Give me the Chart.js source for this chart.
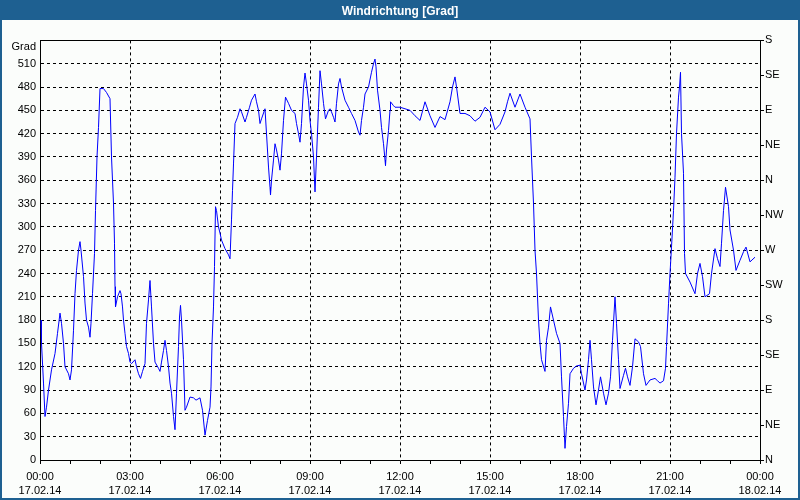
<!DOCTYPE html>
<html>
<head>
<meta charset="utf-8">
<script src="https://cdn.jsdelivr.net/npm/chart.js@4/dist/chart.umd.min.js"></script>
<style>
  html, body { margin: 0; padding: 0; background: #fbfdfb; }
  #wrap { width: 800px; height: 500px; }
</style>
</head>
<body>
<div id="wrap"><canvas id="c" width="800" height="500"></canvas></div>
<script>
// minutes after 17.02.14 00:00
const timeMinutes = [
  2,3,7,10,13,17,23,30,35,40,43,47,50,57,60,63,67,70,73,77,80,82,87,90,93,97,100,102,105,109,111,114,117,120,
  127,133,140,143,147,149,150,151,155,160,162,165,167,170,173,177,180,183,190,193,197,201,205,210,213,217,220,
  223,227,230,237,240,243,247,250,253,257,260,263,267,270,273,277,279,281,283,287,290,293,300,307,312,320,
  325,330,335,340,342,344,347,349,351,353,357,360,363,370,377,380,383,385,387,390,395,400,403,410,413,419,423,
  430,433,437,440,443,450,453,457,460,461,463,467,470,473,477,480,483,487,491,497,503,510,513,517,520,523,527,
  530,533,537,540,543,547,550,553,557,560,563,567,571,577,580,583,587,590,593,597,600,603,610,617,623,630,637,
  640,643,647,650,657,663,667,670,672,675,680,683,687,690,691,693,697,700,701,707,710,720,
  730,740,750,760,770,780,790,800,810,820,825,830,833,840,850,860,870,880,890,900,910,920,930,935,940,950,960,
  970,980,983,987,990,993,997,1000,1003,1010,1013,1017,1021,1027,1033,1040,1043,1047,1050,1053,1057,1060,1067,
  1073,1080,1083,1090,1093,1097,1100,1103,1107,1112,1117,1121,1127,1132,1137,1141,1145,1150,1153,1157,1160,1167,
  1171,1175,1180,1185,1190,1197,1201,1207,1212,1220,1230,1235,1240,1247,1251,1253,1257,1260,1263,1267,1270,1273,
  1277,1279,1281,1283,1287,1289,1291,1300,1310,1315,1320,1325,1330,1339,1343,1350,1355,1360,1363,1367,1371,1377,
  1380,1387,1392,1400,1407,1412,1420,1430
];
// wind direction in degrees
const windDirection = [
  180,150,99,56,68,90,116,137,163,189,176,150,120,111,103,116,167,214,244,270,281,270,236,202,180,171,158,176,214,266,321,390,428,478,
  478,473,465,390,330,279,223,197,210,218,214,197,180,163,146,137,126,124,129,120,111,105,114,124,176,206,231,
  197,150,126,118,114,126,141,154,141,120,99,86,56,39,86,146,184,199,180,129,64,68,81,80,77,80,
  64,32,51,68,94,150,197,249,326,321,300,292,283,272,264,259,309,347,381,433,441,452,448,435,441,454,463,
  471,461,450,433,439,452,420,377,351,341,360,386,407,399,386,373,394,437,467,459,450,446,433,420,409,433,480,
  498,484,463,437,420,390,345,390,454,501,484,459,439,450,452,448,441,435,459,484,491,480,463,454,446,437,422,
  418,437,454,471,480,499,510,516,506,476,450,428,407,386,379,399,424,450,461,456,454,454,
  452,450,443,437,461,443,428,442,438,461,480,493,480,446,446,443,436,441,454,448,425,432,448,461,472,454,471,
  454,439,390,330,270,240,180,150,129,114,154,171,197,180,163,150,107,56,15,43,73,111,118,
  121,122,111,90,103,129,154,129,94,71,90,107,86,71,86,107,154,210,176,129,92,109,
  118,107,96,120,156,152,146,111,96,103,105,102,99,102,118,146,201,240,274,321,364,420,
  467,480,499,420,369,266,240,229,214,240,253,236,210,214,240,272,259,249,279,321,351,326,
  296,270,244,257,268,274,255,261
];
const timeLabels = ['00:00','03:00','06:00','09:00','12:00','15:00','18:00','21:00','00:00'];
const dateLabels = ['17.02.14','17.02.14','17.02.14','17.02.14','17.02.14','17.02.14','17.02.14','17.02.14','18.02.14'];
const compassLabels = ['N','NE','E','SE','S','SW','W','NW','N','NE','E','SE','S'];
const chartTitle = 'Windrichtung [Grad]';
const leftUnit = 'Grad';

const FONT = 'Liberation Sans, Arial, sans-serif';
const BAR = '#1e6091';
const BG = '#fbfdfb';

const points = timeMinutes.map((t, i) => ({ x: t, y: windDirection[i] }));

const framePlugin = {
  id: 'frame',
  beforeDraw(chart) {
    const ctx = chart.ctx;
    ctx.save();
    ctx.fillStyle = BG;
    ctx.fillRect(0, 0, chart.width, chart.height);
    ctx.fillStyle = BAR;
    ctx.fillRect(0, 0, chart.width, 20);
    ctx.strokeStyle = BAR;
    ctx.lineWidth = 2;
    ctx.strokeRect(1, 1, chart.width - 2, chart.height - 2);
    ctx.restore();
  },
  afterDraw(chart) {
    const a = chart.chartArea;
    const ctx = chart.ctx;
    ctx.save();
    ctx.strokeStyle = '#000';
    ctx.lineWidth = 1;
    ctx.beginPath();
    ctx.moveTo(a.left, Math.round(a.top) + 0.5);
    ctx.lineTo(a.right, Math.round(a.top) + 0.5);
    ctx.stroke();
    ctx.restore();
  }
};

new Chart(document.getElementById('c'), {
  type: 'line',
  data: {
    datasets: [{
      data: points,
      borderColor: '#0000ff',
      borderWidth: 1,
      pointRadius: 0,
      tension: 0,
      fill: false,
      yAxisID: 'y'
    }]
  },
  plugins: [framePlugin],
  options: {
    responsive: false,
    devicePixelRatio: 1,
    animation: false,
    layout: { padding: 0 },
    plugins: {
      legend: { display: false },
      tooltip: { enabled: false },
      title: {
        display: true,
        text: chartTitle,
        color: '#ffffff',
        font: { family: FONT, size: 12, weight: 'bold' },
        padding: { top: 4, bottom: 22 }
      }
    },
    scales: {
      x: {
        type: 'linear',
        min: 0,
        max: 1440,
        afterFit(s) { s.height = 40; },
        afterBuildTicks(s) {
          const t = [];
          for (let v = 0; v <= 1440; v += 60) t.push({ value: v });
          s.ticks = t;
        },
        ticks: {
          autoSkip: false,
          maxRotation: 0,
          minRotation: 0,
          padding: 5,
          color: '#000',
          font: { family: FONT, size: 11, lineHeight: 1.36 },
          callback(v) {
            if (v % 180 !== 0) return '';
            const i = v / 180;
            return [timeLabels[i], dateLabels[i]];
          }
        },
        grid: {
          color: c => (c.tick && c.tick.value % 180 === 0) ? '#000' : 'rgba(0,0,0,0)',
          tickColor: '#000',
          tickLength: 4,
          lineWidth: 1
        },
        border: { display: true, color: '#000', width: 1, dash: [3, 3] }
      },
      y: {
        position: 'left',
        min: 0,
        max: 540,
        afterFit(s) { s.width = 40; },
        ticks: {
          stepSize: 30,
          autoSkip: false,
          padding: 4,
          color: '#000',
          font: { family: FONT, size: 11 },
          callback(v) { return v === 540 ? ['', leftUnit] : String(v); }
        },
        grid: {
          color: '#000',
          lineWidth: 1,
          drawTicks: false
        },
        border: { display: true, color: '#000', width: 1, dash: [3, 3] }
      },
      y2: {
        position: 'right',
        min: 0,
        max: 540,
        afterFit(s) { s.width = 40; },
        ticks: {
          stepSize: 45,
          autoSkip: false,
          padding: 1,
          color: '#000',
          font: { family: FONT, size: 11 },
          callback(v) { return compassLabels[Math.round(v / 45)]; }
        },
        grid: {
          drawOnChartArea: false,
          color: '#000',
          tickColor: '#000',
          tickLength: 4
        },
        border: { display: true, color: '#000', width: 1 }
      }
    }
  }
});
</script>
</body>
</html>
